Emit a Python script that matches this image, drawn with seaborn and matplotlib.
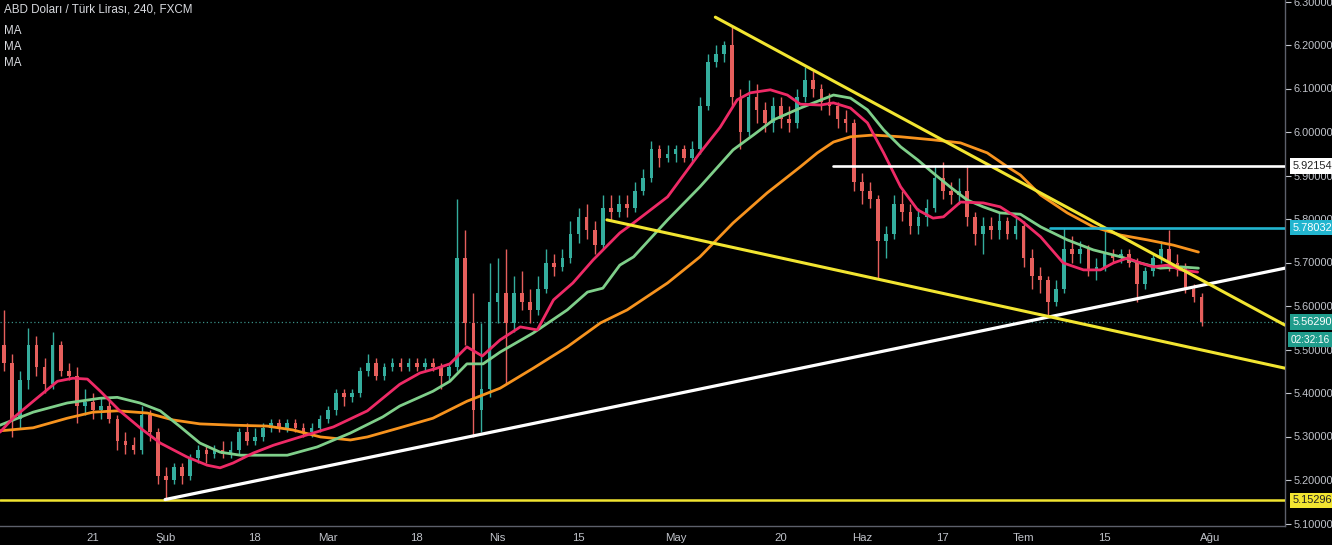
import numpy as np
import pandas as pd
import matplotlib
matplotlib.use("Agg")
import matplotlib.pyplot as plt
import matplotlib.transforms as mtransforms
import seaborn as sns

# ---------------- data (x = business-day index, 0 = 2019-01-04) ----------------
opens = [5.51, 5.47, 5.34, 5.43, 5.51, 5.46, 5.42, 5.51, 5.45, 5.44,
         5.37, 5.38, 5.36, 5.37, 5.34, 5.29, 5.28, 5.27, 5.35, 5.31,
         5.21, 5.20, 5.23, 5.21, 5.25, 5.27, 5.26, 5.27, 5.26, 5.27,
         5.31, 5.29, 5.30, 5.32, 5.33, 5.32, 5.33, 5.32, 5.31, 5.32,
         5.34, 5.36, 5.40, 5.39, 5.40, 5.45, 5.47, 5.44, 5.46, 5.47,
         5.46, 5.47, 5.46, 5.47, 5.46, 5.44, 5.46, 5.71, 5.56, 5.36,
         5.41, 5.61, 5.63, 5.56, 5.63, 5.61, 5.59, 5.64, 5.70, 5.69,
         5.71, 5.765, 5.805, 5.775, 5.74, 5.825, 5.815, 5.835, 5.825, 5.865,
         5.895, 5.96, 5.94, 5.95, 5.96, 5.94, 5.96, 6.06, 6.16, 6.18,
         6.20, 6.08, 6.00, 6.08, 6.05, 6.02, 6.06, 6.03, 6.02, 6.08,
         6.12, 6.10, 6.07, 6.06, 6.03, 6.02, 5.885, 5.865, 5.845, 5.75,
         5.765, 5.835, 5.815, 5.785, 5.805, 5.825, 5.895, 5.865, 5.855, 5.865,
         5.805, 5.765, 5.785, 5.775, 5.795, 5.765, 5.785, 5.71, 5.67, 5.66,
         5.61, 5.64, 5.73, 5.72, 5.73, 5.68, 5.69, 5.72, 5.71, 5.72,
         5.70, 5.65, 5.68, 5.71, 5.73, 5.70, 5.69, 5.64, 5.62]
highs = [5.59, 5.49, 5.45, 5.55, 5.53, 5.48, 5.54, 5.52, 5.47, 5.46,
         5.41, 5.40, 5.39, 5.39, 5.35, 5.31, 5.30, 5.37, 5.36, 5.32,
         5.23, 5.24, 5.24, 5.26, 5.28, 5.28, 5.28, 5.29, 5.29, 5.32,
         5.33, 5.32, 5.33, 5.34, 5.34, 5.34, 5.34, 5.33, 5.33, 5.35,
         5.37, 5.41, 5.41, 5.41, 5.46, 5.49, 5.48, 5.47, 5.48, 5.48,
         5.48, 5.48, 5.48, 5.48, 5.47, 5.47, 5.845, 5.775, 5.63, 5.56,
         5.70, 5.71, 5.73, 5.67, 5.68, 5.64, 5.67, 5.73, 5.72, 5.73,
         5.795, 5.825, 5.835, 5.795, 5.855, 5.855, 5.855, 5.855, 5.885, 5.915,
         5.98, 5.97, 5.97, 5.97, 5.97, 5.98, 6.08, 6.18, 6.20, 6.21,
         6.246, 6.10, 6.12, 6.11, 6.07, 6.08, 6.08, 6.06, 6.10, 6.15,
         6.14, 6.11, 6.09, 6.07, 6.05, 6.03, 5.905, 5.885, 5.855, 5.785,
         5.855, 5.865, 5.835, 5.825, 5.845, 5.925, 5.93, 5.885, 5.895, 5.925,
         5.815, 5.805, 5.805, 5.815, 5.805, 5.805, 5.795, 5.73, 5.69, 5.67,
         5.66, 5.78, 5.76, 5.75, 5.74, 5.71, 5.775, 5.73, 5.73, 5.73,
         5.71, 5.69, 5.72, 5.75, 5.775, 5.72, 5.70, 5.65, 5.63]
lows = [5.45, 5.30, 5.32, 5.41, 5.44, 5.40, 5.41, 5.44, 5.43, 5.33,
        5.35, 5.34, 5.34, 5.33, 5.27, 5.26, 5.26, 5.26, 5.29, 5.19,
        5.155, 5.19, 5.19, 5.20, 5.24, 5.24, 5.25, 5.25, 5.25, 5.26,
        5.28, 5.28, 5.29, 5.31, 5.31, 5.31, 5.31, 5.30, 5.30, 5.31,
        5.33, 5.35, 5.37, 5.38, 5.39, 5.44, 5.43, 5.43, 5.45, 5.45,
        5.45, 5.45, 5.45, 5.45, 5.41, 5.43, 5.45, 5.51, 5.30, 5.31,
        5.39, 5.56, 5.42, 5.54, 5.59, 5.56, 5.58, 5.63, 5.67, 5.68,
        5.70, 5.745, 5.755, 5.72, 5.73, 5.795, 5.805, 5.805, 5.815, 5.855,
        5.885, 5.92, 5.93, 5.93, 5.93, 5.93, 5.95, 6.05, 6.15, 6.16,
        6.06, 5.96, 5.99, 6.02, 6.00, 6.00, 6.01, 6.00, 6.01, 6.07,
        6.08, 6.05, 6.04, 6.01, 6.00, 5.865, 5.835, 5.825, 5.665, 5.71,
        5.755, 5.795, 5.765, 5.765, 5.785, 5.815, 5.845, 5.835, 5.835, 5.785,
        5.74, 5.72, 5.755, 5.755, 5.755, 5.755, 5.69, 5.64, 5.63, 5.58,
        5.60, 5.63, 5.70, 5.70, 5.67, 5.66, 5.68, 5.70, 5.70, 5.69,
        5.61, 5.64, 5.67, 5.70, 5.68, 5.67, 5.63, 5.61, 5.555]
closes = [5.47, 5.34, 5.43, 5.51, 5.46, 5.42, 5.51, 5.45, 5.44, 5.37,
          5.38, 5.36, 5.37, 5.34, 5.29, 5.28, 5.27, 5.35, 5.31, 5.21,
          5.20, 5.23, 5.21, 5.25, 5.27, 5.26, 5.27, 5.26, 5.27, 5.31,
          5.29, 5.30, 5.32, 5.33, 5.32, 5.33, 5.32, 5.31, 5.32, 5.34,
          5.36, 5.40, 5.39, 5.40, 5.45, 5.47, 5.44, 5.46, 5.47, 5.46,
          5.47, 5.46, 5.47, 5.46, 5.44, 5.46, 5.71, 5.56, 5.36, 5.41,
          5.61, 5.63, 5.56, 5.63, 5.61, 5.59, 5.64, 5.70, 5.69, 5.71,
          5.765, 5.805, 5.775, 5.74, 5.825, 5.815, 5.835, 5.825, 5.865, 5.895,
          5.96, 5.94, 5.95, 5.96, 5.94, 5.96, 6.06, 6.16, 6.18, 6.20,
          6.08, 6.00, 6.08, 6.05, 6.02, 6.06, 6.03, 6.02, 6.08, 6.12,
          6.10, 6.07, 6.06, 6.03, 6.02, 5.885, 5.865, 5.845, 5.75, 5.765,
          5.835, 5.815, 5.785, 5.805, 5.825, 5.895, 5.865, 5.855, 5.865, 5.805,
          5.765, 5.785, 5.775, 5.795, 5.765, 5.785, 5.71, 5.67, 5.66, 5.61,
          5.64, 5.73, 5.72, 5.73, 5.68, 5.69, 5.72, 5.71, 5.72, 5.70,
          5.65, 5.68, 5.71, 5.73, 5.70, 5.69, 5.64, 5.62, 5.5629]

# moving averages (day index, price)
ma_fast_idx = [-0.5, 1.1, 3.6, 6.6, 8.5, 10.3, 11.9, 14.3, 16.8, 19.3, 22.6, 25.1, 26.7,
               28.3, 30.8, 33.3, 36.6, 40.7, 44.9, 48.9, 51.4, 53.5, 55.1, 57.2, 59.1,
               61.3, 63.8, 65.9, 67.9, 70.3, 72.8, 76.1, 77.8, 82.0, 86.0, 88.5, 90.6,
               92.2, 94.7, 96.8, 98.4, 100.9, 102.5, 104.6, 106.7, 108.7, 110.8, 112.9,
               114.8, 116.1, 118.2, 121.0, 123.1, 125.6, 128.1, 130.9, 133.4, 135.5,
               137.1, 138.8, 140.4, 142.0, 143.8, 145.4, 147.5]
ma_fast = [5.310, 5.342, 5.381, 5.427, 5.434, 5.432, 5.404, 5.359, 5.320, 5.285, 5.253,
           5.234, 5.228, 5.239, 5.262, 5.280, 5.299, 5.322, 5.359, 5.420, 5.446, 5.457,
           5.467, 5.506, 5.485, 5.522, 5.552, 5.545, 5.614, 5.653, 5.706, 5.768, 5.791,
           5.851, 5.952, 6.011, 6.074, 6.090, 6.097, 6.085, 6.064, 6.062, 6.067, 6.055,
           6.021, 5.952, 5.874, 5.821, 5.802, 5.805, 5.839, 5.837, 5.828, 5.798, 5.759,
           5.699, 5.683, 5.683, 5.699, 5.710, 5.699, 5.690, 5.694, 5.683, 5.678]
ma_mid_idx = [-0.5, 3.6, 7.8, 11.9, 14.0, 16.8, 19.3, 21.8, 24.2, 26.7, 29.2, 32.5, 35.0,
              38.7, 42.8, 46.8, 48.9, 53.0, 55.1, 57.2, 59.2, 61.3, 65.4, 69.6, 72.1,
              74.0, 76.1, 77.8, 82.0, 86.0, 90.1, 92.6, 95.1, 98.4, 102.5, 104.6, 106.7,
              108.7, 110.8, 112.9, 114.8, 116.9, 119.0, 121.0, 123.1, 125.6, 128.1,
              131.4, 134.6, 138.0, 140.4, 142.9, 145.4, 147.6]
ma_mid = [5.326, 5.356, 5.377, 5.388, 5.390, 5.377, 5.359, 5.322, 5.285, 5.264, 5.257,
          5.257, 5.257, 5.276, 5.308, 5.345, 5.370, 5.404, 5.427, 5.467, 5.467, 5.494,
          5.538, 5.591, 5.632, 5.641, 5.694, 5.713, 5.798, 5.874, 5.959, 5.993, 6.028,
          6.055, 6.085, 6.078, 6.051, 6.005, 5.966, 5.936, 5.906, 5.874, 5.844, 5.828,
          5.814, 5.811, 5.782, 5.752, 5.729, 5.713, 5.699, 5.687, 5.690, 5.687]
ma_slow_idx = [-0.5, 3.6, 7.8, 11.0, 14.0, 17.7, 20.9, 24.2, 28.3, 32.5, 35.7, 39.1, 42.8,
               44.9, 48.9, 53.0, 57.2, 61.3, 65.4, 69.6, 73.7, 77.0, 82.0, 86.0, 90.1,
               94.3, 98.4, 100.5, 102.5, 104.6, 107.4, 110.8, 114.8, 118.2, 121.5, 124.0,
               125.6, 128.1, 131.4, 134.6, 138.0, 141.3, 144.5, 147.6]
ma_slow = [5.313, 5.320, 5.342, 5.356, 5.359, 5.354, 5.338, 5.329, 5.326, 5.324, 5.315,
           5.299, 5.292, 5.299, 5.320, 5.342, 5.381, 5.411, 5.457, 5.506, 5.561, 5.591,
           5.653, 5.713, 5.791, 5.860, 5.920, 5.952, 5.977, 5.989, 5.993, 5.989, 5.982,
           5.975, 5.952, 5.920, 5.901, 5.855, 5.814, 5.782, 5.763, 5.752, 5.740, 5.724]

# drawn trend lines (day index, price)
support_idx = [19.9, 158.3]
support_px = [5.155, 5.687]
upper_idx = [87.9, 158.3]
upper_px = [6.264, 5.556]
lower_idx = [74.5, 158.3]
lower_px = [5.798, 5.457]
level_white = 5.92154
level_white_from = 102.5
level_cyan = 5.78032
level_cyan_from = 129.3
level_yellow = 5.15296
last_price = 5.5629
countdown = "02:32:16"

tick_idx = [11, 20, 31, 40, 51, 61, 71, 83, 96, 106, 116, 126, 136, 149]
tick_lbl = ["21", "Şub", "18", "Mar", "18", "Nis", "15", "May", "20", "Haz", "17", "Tem", "15", "Ağu"]
ytick_vals = [5.1, 5.2, 5.3, 5.4, 5.5, 5.6, 5.7, 5.8, 5.9, 6.0, 6.1, 6.2, 6.3]

# ---------------- styling ----------------
sns.set_theme(style="dark", rc={"axes.facecolor": "black", "figure.facecolor": "black",
                                "axes.grid": False})
plt.rcParams['font.family'] = ['Liberation Sans', 'DejaVu Sans']

W, H = 1332, 545
fig = plt.figure(figsize=(W / 100, H / 100), dpi=100)
plot_right = 1285
plot_bottom = 526
ax = fig.add_axes([0, (H - plot_bottom) / H, plot_right / W, plot_bottom / H])
ax.set_facecolor("black")

up_col = "#34ad9d"
dn_col = "#e65f5c"
o = np.array(opens); h = np.array(highs); l = np.array(lows); c = np.array(closes)
x = np.arange(len(c))
cols = np.where(c >= o, up_col, dn_col)
ax.vlines(x, l, h, colors=cols, linewidth=1.0, zorder=3)
body = np.maximum(np.abs(c - o), 0.003)
ax.bar(x, body, bottom=np.minimum(o, c), width=0.45, color=cols, linewidth=0, zorder=3)

sns.lineplot(x=ma_slow_idx, y=ma_slow, color="#f7931e", linewidth=2.0, ax=ax, zorder=4, estimator=None)
sns.lineplot(x=ma_mid_idx, y=ma_mid, color="#7fcf8a", linewidth=2.0, ax=ax, zorder=4, estimator=None)
sns.lineplot(x=ma_fast_idx, y=ma_fast, color="#ee2a66", linewidth=2.0, ax=ax, zorder=4, estimator=None)

xmin, xmax = -0.5, 158.3
ax.axhline(last_price, color="#3a8f86", linestyle=(0, (1, 2)), linewidth=0.9, zorder=2)
sns.lineplot(x=[xmin, xmax], y=[level_yellow, level_yellow], color="#f2e531", linewidth=1.8, ax=ax, zorder=5)
sns.lineplot(x=support_idx, y=support_px, color="white", linewidth=2.3, ax=ax, zorder=5)
sns.lineplot(x=upper_idx, y=upper_px, color="#f2e531", linewidth=2.2, ax=ax, zorder=5)
sns.lineplot(x=lower_idx, y=lower_px, color="#f2e531", linewidth=2.2, ax=ax, zorder=5)
sns.lineplot(x=[level_white_from, xmax], y=[level_white, level_white], color="white", linewidth=1.9, ax=ax, zorder=5)
sns.lineplot(x=[level_cyan_from, xmax], y=[level_cyan, level_cyan], color="#22b5cf", linewidth=1.9, ax=ax, zorder=5)

ytop = 6.3 + 1.5 / 435
ybot = 6.3 - (plot_bottom - 1.5) / 435
ax.set_xlim(xmin, xmax)
ax.set_ylim(ybot, ytop)

grey = "#c8cbd2"
ax.yaxis.tick_right()
ax.set_yticks(ytick_vals)
ax.set_yticklabels([f"{v:.5f}" for v in ytick_vals])
ax.tick_params(axis="y", colors=grey, labelsize=7.9, length=4, width=0.8, pad=2, direction="out")
ax.set_xticks(tick_idx)
ax.set_xticklabels(tick_lbl)
ax.tick_params(axis="x", colors=grey, labelsize=8.2, length=3, width=0.8, pad=2, direction="out")
for lab in ax.get_yticklabels() + ax.get_xticklabels():
    lab.set_color("#c0c3ca")
for s in ["top", "left"]:
    ax.spines[s].set_visible(False)
for s in ["right", "bottom"]:
    ax.spines[s].set_color("#5d606b")
    ax.spines[s].set_linewidth(1.0)
ax.set_xlabel("")
ax.set_ylabel("")

trans = mtransforms.blended_transform_factory(ax.transAxes, ax.transData)
def price_box(val, text, face, fg, size=7.9, xpos=1.006):
    ax.text(xpos, val, text, transform=trans, ha="left", va="center", fontsize=size,
            color=fg, clip_on=False, zorder=10,
            bbox=dict(boxstyle="square,pad=0.25", facecolor=face, edgecolor="none"))

price_box(level_white, f"{level_white:.5f}", "white", "#222222")
price_box(level_cyan, f"{level_cyan:.5f}", "#22b5cf", "white")
price_box(last_price, f"{last_price:.5f}", "#1f9c8c", "white")
price_box(last_price - 0.041, countdown, "#1f9c8c", "white", size=7.2, xpos=1.004)
price_box(level_yellow, f"{level_yellow:.5f}", "#f2e531", "#222222")

ax.text(0.003, 0.993, "ABD Doları / Türk Lirası, 240, FXCM", transform=ax.transAxes,
        ha="left", va="top", fontsize=8.4, color="#d8dadf", zorder=10)
for k in range(3):
    ax.text(0.003, 0.953 - k * 0.031, "MA", transform=ax.transAxes, ha="left", va="top",
            fontsize=8.4, color="#d8dadf", zorder=10)

fig.savefig("out.png", dpi=100, facecolor="black")
